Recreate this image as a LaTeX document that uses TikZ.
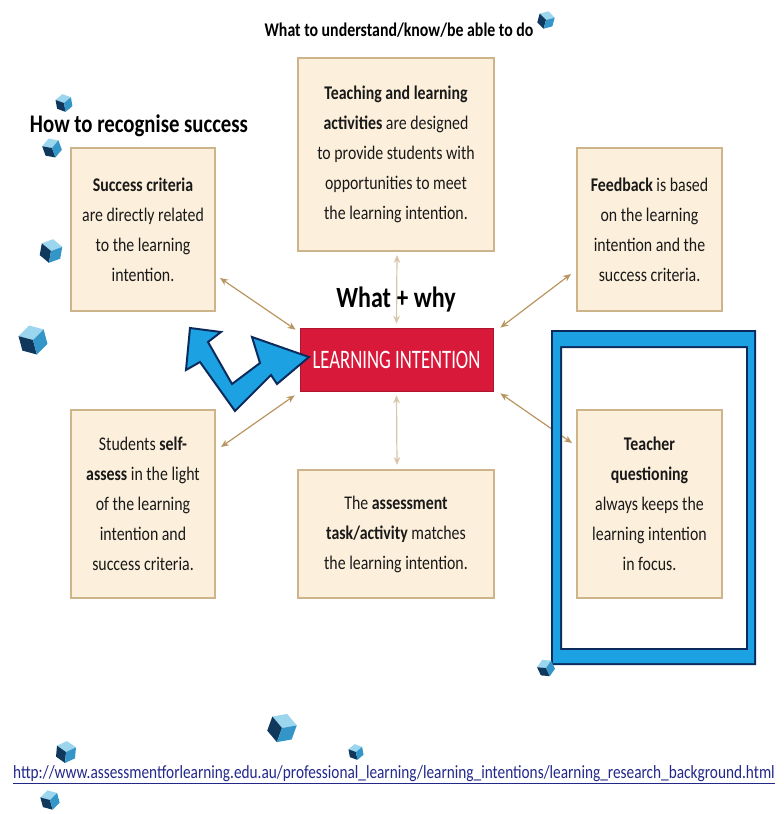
\documentclass[tikz,border=0pt]{standalone}
\usepackage{fontspec}
\setmainfont{Carlito}[FakeStretch=0.82]
\newfontfamily\lifont{Carlito}[FakeStretch=0.7]
\usetikzlibrary{arrows.meta,calc}

\definecolor{boxfill}{HTML}{FCF0DC}
\definecolor{boxline}{HTML}{CDB48A}
\definecolor{linkcol}{HTML}{B99560}
\definecolor{lired}{HTML}{D8193A}
\definecolor{frameblue}{HTML}{1CA2E2}
\definecolor{navy}{HTML}{0C2B5C}
\definecolor{cubetop}{HTML}{9CD6EE}
\definecolor{cubeleft}{HTML}{10385C}
\definecolor{cuberight}{HTML}{3496C8}
\definecolor{urlblue}{HTML}{22288A}

\tikzset{
  infobox/.style={draw=boxline, line width=1.5pt, fill=boxfill, align=center,
    inner sep=0pt, text=black!90, font=\fontsize{14.5}{22.5}\selectfont},
  link/.style={draw=linkcol, line width=0.9pt,
    {Stealth[length=6pt,width=5pt]}-{Stealth[length=6pt,width=5pt]}},
  vlink/.style={link, draw=linkcol!55},
  cube/.pic={
    \fill[cubetop] (0,-1) -- (0.866,-0.5) -- (0,0) -- (-0.866,-0.5) -- cycle;
    \fill[cubeleft] (-0.866,-0.5) -- (0,0) -- (0,1) -- (-0.866,0.5) -- cycle;
    \fill[cuberight] (0,0) -- (0.866,-0.5) -- (0.866,0.5) -- (0,1) -- cycle;
  }
}

\begin{document}
\begin{tikzpicture}[x=0.75pt,y=-0.75pt]
\useasboundingbox (0,0) rectangle (784,814);

% cube behind the heading
\pic[scale=9,rotate=10] at (64,103) {cube};

% headings
\node[font=\bfseries\fontsize{14.5}{16}\selectfont] (title) at (399,30)
  {What to understand/know/be able to do};
\node[font=\bfseries\fontsize{19}{22}\selectfont] (how) at (139,126)
  {How to recognise success};
\node[font=\bfseries\fontsize{22}{26}\selectfont] (why) at (396,300)
  {What + why};

% the six boxes
\node[infobox, minimum width=108pt, minimum height=122.25pt] (sc) at (143,229.5)
  {\textbf{Success criteria}\\are directly related\\to the learning\\intention.};
\node[infobox, minimum width=147pt, minimum height=144.75pt] (ta) at (396,154.5)
  {\textbf{Teaching and learning}\\\textbf{activities} are designed\\to provide students with\\opportunities to meet\\the learning intention.};
\node[infobox, minimum width=108.75pt, minimum height=122.25pt] (fb) at (649.5,229.5)
  {\textbf{Feedback} is based\\on the learning\\intention and the\\success criteria.};
\node[infobox, minimum width=108pt, minimum height=141pt] (sa) at (143,504)
  {Students \textbf{self-}\\\textbf{assess} in the light\\of the learning\\intention and\\success criteria.};
\node[infobox, minimum width=147pt, minimum height=96pt] (as) at (396,534)
  {The \textbf{assessment}\\\textbf{task/activity} matches\\the learning intention.};
\node[infobox, minimum width=108.75pt, minimum height=141pt] (tq) at (649.5,504)
  {\textbf{Teacher}\\\textbf{questioning}\\always keeps the\\learning intention\\in focus.};

% central box
\node[fill=lired, draw=lired!80!black, line width=0.6pt, minimum width=144.75pt,
  minimum height=47.25pt, text=white, font=\lifont\fontsize{20}{24}\selectfont]
  (li) at (396.5,359.5) {LEARNING INTENTION};

% connectors
\draw[link] ($(sc.south east)+(4,-34)$) -- ($(li.north west)+(-4,2)$);
\draw[link] ($(fb.south west)+(-5,-38)$) -- ($(li.north east)+(7,0)$);
\draw[link] ($(sa.north east)+(5,38)$) -- ($(li.south west)+(-5,4)$);
\draw[link] ($(tq.north west)+(-4,34)$) -- ($(li.south east)+(7,2)$);
\draw[vlink] ($(ta.south)+(1,3)$) -- ($(li.north)+(0,-4)$);
\draw[vlink] ($(li.south)+(0,4)$) -- ($(as.north)+(1,-4)$);

% highlight frame round the questioning box: navy band with a blue core
\fill[navy, even odd rule] (551,330) rectangle (756,665) (562,348) rectangle (746,648);
\fill[frameblue, even odd rule] (553,332) rectangle (754,663) (560,346) rectangle (748,650);

% two-headed bent arrow
\draw[navy, fill=frameblue, line width=1.5pt, line join=miter]
  (190,328) -- (221,332) -- (208,342) -- (232,384) -- (260,363) -- (252,337)
  -- (309,357) -- (277,384) -- (271,375) -- (235,411) -- (200,362)
  -- (186,370) -- cycle;

% source link
\node[font=\fontsize{14}{16}\selectfont, text=urlblue] (url) at (394,775)
  {\underline{http://www.assessmentforlearning.edu.au/professional\_learning/learning\_intentions/learning\_research\_background.html}};

% scattered cubes
\pic[scale=9,rotate=-15] at (546,20) {cube};
\pic[scale=10,rotate=20] at (52,148) {cube};
\pic[scale=12,rotate=-10] at (51,251) {cube};
\pic[scale=15,rotate=15] at (33,340) {cube};
\pic[scale=9,rotate=25] at (546,668) {cube};
\pic[scale=15,rotate=-20] at (282,728) {cube};
\pic[scale=8,rotate=10] at (356,752) {cube};
\pic[scale=11,rotate=-5] at (66,752) {cube};
\pic[scale=10,rotate=15] at (50,800) {cube};
\end{tikzpicture}
\end{document}
